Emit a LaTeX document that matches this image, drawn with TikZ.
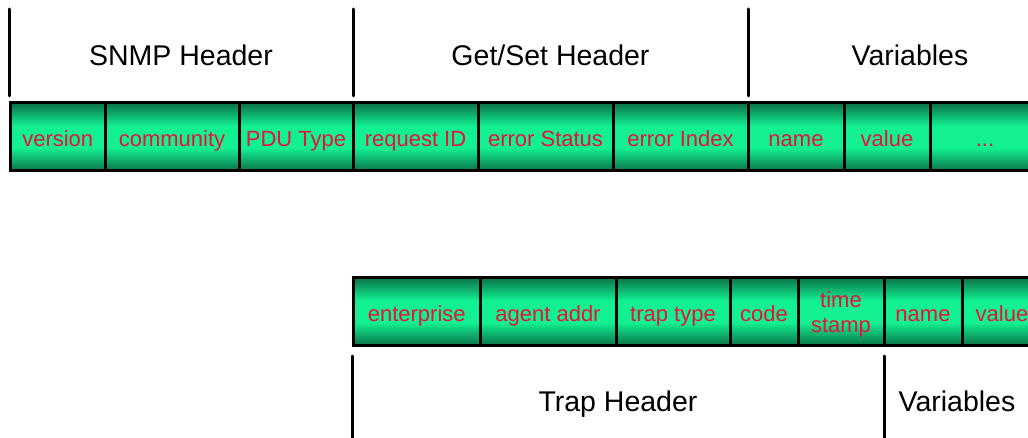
\documentclass[tikz,border=0pt]{standalone}
\usepackage{fontspec}
\setmainfont{Liberation Sans}
\definecolor{bardark}{RGB}{10,114,72}
\definecolor{barlight}{RGB}{18,240,146}
\definecolor{fieldred}{RGB}{232,18,58}
\pgfdeclareverticalshading{pdubar}{100bp}{%
  color(0bp)=(bardark); color(25bp)=(bardark); color(42bp)=(barlight);
  color(58bp)=(barlight); color(75bp)=(bardark); color(100bp)=(bardark)}
\tikzset{
  field/.style={draw=black, line width=3pt, shading=pdubar, rectangle,
    inner sep=0pt, text=fieldred, text height=19pt, text depth=0pt,
    font=\fontsize{22}{24.5}\selectfont},
  hdrtext/.style={anchor=base, inner sep=0pt, font=\fontsize{28.5}{32}\selectfont},
  marker/.style={line width=3pt, line cap=round}
}
\begin{document}
\begin{tikzpicture}[x=1pt,y=-1pt]
\useasboundingbox (0,0) rectangle (1028,438);
\fill[white] (0,0) rectangle (1028,438);
\clip (0,0) rectangle (1028,438);

% message PDU fields
\begin{scope}[every node/.style={field, minimum height=68pt}]
\node[minimum width=94.5pt] (ver) at (57.75,137) {version};
\node[minimum width=134pt] (com) at (172,137) {community};
\node[minimum width=114pt] (pdu) at (296,137) {PDU Type};
\node[minimum width=125pt] (rid) at (415.5,137) {request ID};
\node[minimum width=135pt] (est) at (545.5,137) {error Status};
\node[minimum width=135pt] (eix) at (680.5,137) {error Index};
\node[minimum width=96pt] (nam) at (796,137) {name};
\node[minimum width=86pt] (val) at (887,137) {value};
\node[minimum width=110pt] (etc) at (985,137) {...};
\end{scope}

% trap PDU fields
\begin{scope}[every node/.style={field, minimum height=68pt}]
\node[minimum width=126.5pt] (ent) at (416.75,311.5) {enterprise};
\node[minimum width=136pt] (agt) at (548,311.5) {agent addr};
\node[minimum width=114pt] (trt) at (673,311.5) {trap type};
\node[minimum width=68pt] (cod) at (764,311.5) {code};
\node[minimum width=86pt, align=center, text height=41pt] (tms) at (841,311.5) {time\\stamp};
\node[minimum width=78pt] (tnm) at (923,311.5) {name};
\node[minimum width=80pt] (tvl) at (1002,311.5) {value};
\end{scope}

% header brackets above the message PDU
\coordinate (t1) at (9.5,9);   \coordinate (b1) at (9.5,96);
\coordinate (t2) at (353,9);   \coordinate (b2) at (353,96);
\coordinate (t3) at (748,9);   \coordinate (b3) at (748,96);
\draw[marker] (t1) -- (b1);
\draw[marker] (t2) -- (b2);
\draw[marker] (t3) -- (b3);
\node[hdrtext] (snmph) at (181,66) {SNMP Header};
\node[hdrtext] (gsh) at (550.5,66) {Get/Set Header};
\node[hdrtext] (varh) at (910,66) {Variables};

% header brackets below the trap PDU
\coordinate (t4) at (352.5,356); \coordinate (b4) at (352.5,445);
\coordinate (t5) at (884,356);   \coordinate (b5) at (884,445);
\draw[marker] (t4) -- (b4);
\draw[marker] (t5) -- (b5);
\node[hdrtext] (traph) at (618,411) {Trap Header};
\node[hdrtext] (tvarh) at (957,411) {Variables};
\end{tikzpicture}
\end{document}
